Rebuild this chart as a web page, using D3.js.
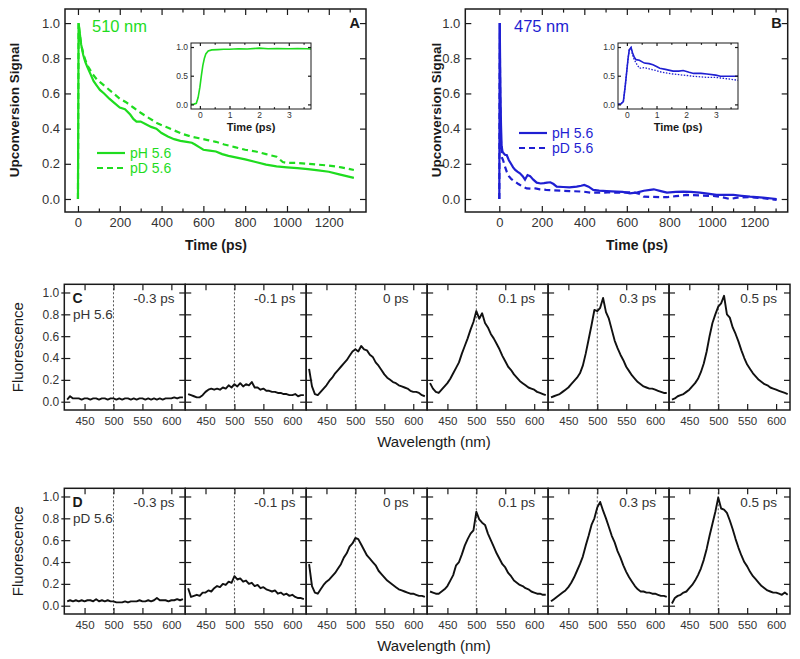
<!DOCTYPE html>
<html><head><meta charset="utf-8">
<script src="https://cdn.jsdelivr.net/npm/d3@7"></script>
<style>body{margin:0;background:#fff;}svg{display:block;}</style>
</head><body>
<svg id="c" width="800" height="659"></svg>
<script>
// ---------------- DATA ----------------
// Panel A (510 nm)
const tA_pH = [0, 3, 8, 15, 25, 35, 45, 60, 75, 90, 105, 125, 150, 175, 200, 225, 250, 265, 280, 300, 325, 350, 375, 400, 430, 460, 490, 520, 545, 560, 580, 600, 630, 660, 690, 720, 760, 800, 850, 900, 950, 1000, 1050, 1100, 1150, 1200, 1250, 1320];
const sA_pH = [0, 1.0, 0.95, 0.88, 0.82, 0.78, 0.75, 0.71, 0.67, 0.645, 0.62, 0.6, 0.57, 0.545, 0.52, 0.51, 0.48, 0.455, 0.44, 0.44, 0.425, 0.41, 0.4, 0.375, 0.355, 0.34, 0.33, 0.325, 0.32, 0.31, 0.295, 0.28, 0.275, 0.27, 0.255, 0.245, 0.235, 0.225, 0.21, 0.195, 0.185, 0.18, 0.175, 0.17, 0.163, 0.155, 0.14, 0.12];
const tA_pD = [0, 3, 8, 15, 25, 35, 50, 70, 90, 110, 140, 170, 200, 230, 265, 300, 340, 380, 420, 460, 500, 540, 580, 620, 660, 700, 750, 800, 850, 900, 950, 980, 1000, 1050, 1100, 1150, 1200, 1260, 1320];
const sA_pD = [0, 1.0, 0.94, 0.88, 0.83, 0.79, 0.75, 0.71, 0.68, 0.66, 0.63, 0.6, 0.57, 0.55, 0.52, 0.49, 0.46, 0.43, 0.41, 0.39, 0.37, 0.355, 0.345, 0.335, 0.325, 0.31, 0.295, 0.28, 0.27, 0.255, 0.24, 0.21, 0.205, 0.205, 0.2, 0.195, 0.19, 0.18, 0.165];
// Panel B (475 nm)
const tB_pH = [0, 2, 4, 6, 8, 11, 15, 20, 28, 35, 45, 55, 65, 75, 85, 97, 110, 121, 133, 145, 160, 176, 195, 210, 225, 240, 255, 270, 300, 330, 364, 385, 400, 420, 442, 470, 505, 552, 580, 615, 650, 680, 710, 727, 760, 789, 830, 866, 900, 944, 980, 1022, 1060, 1101, 1140, 1180, 1240, 1305];
const sB_pH = [0, 1.0, 0.75, 0.56, 0.42, 0.3, 0.27, 0.26, 0.25, 0.25, 0.22, 0.2, 0.18, 0.165, 0.155, 0.146, 0.13, 0.11, 0.136, 0.13, 0.11, 0.093, 0.088, 0.09, 0.093, 0.095, 0.085, 0.07, 0.068, 0.066, 0.07, 0.075, 0.08, 0.07, 0.052, 0.048, 0.045, 0.042, 0.04, 0.032, 0.038, 0.047, 0.052, 0.055, 0.045, 0.036, 0.04, 0.042, 0.04, 0.036, 0.03, 0.023, 0.024, 0.023, 0.018, 0.013, 0.008, 0.0];
const tB_pD = [0, 2, 4, 7, 11, 18, 25, 35, 45, 55, 65, 74, 90, 110, 129, 150, 170, 191, 220, 250, 286, 330, 395, 430, 474, 510, 552, 590, 631, 660, 680, 720, 789, 830, 882, 940, 1007, 1050, 1085, 1120, 1180, 1240, 1305];
const sB_pD = [0, 1.0, 0.6, 0.35, 0.24, 0.22, 0.19, 0.155, 0.13, 0.115, 0.105, 0.1, 0.085, 0.07, 0.06, 0.058, 0.06, 0.055, 0.052, 0.05, 0.047, 0.045, 0.042, 0.036, 0.036, 0.037, 0.036, 0.037, 0.038, 0.028, 0.013, 0.012, 0.01, 0.016, 0.023, 0.02, 0.017, 0.01, 0.0, 0.008, 0.01, 0.005, -0.005];
// Insets (early time, ps)
const tInA = [-0.3, -0.2, -0.12, -0.06, 0, 0.05, 0.1, 0.15, 0.2, 0.28, 0.4, 0.6, 0.8, 1.0, 1.3, 1.6, 2.0, 2.3, 2.6, 3.0, 3.3, 3.6, 3.75];
const sInA = [0.0, 0.005, 0.02, 0.12, 0.3, 0.5, 0.68, 0.8, 0.88, 0.93, 0.95, 0.955, 0.96, 0.96, 0.97, 0.965, 0.98, 0.97, 0.975, 0.97, 0.975, 0.97, 0.965];
const tInB = [-0.3, -0.2, -0.12, -0.06, 0.0, 0.04, 0.08, 0.14, 0.19, 0.25, 0.31, 0.42, 0.59, 0.75, 0.88, 1.0, 1.11, 1.3, 1.56, 1.75, 1.9, 2.1, 2.25, 2.5, 2.7, 3.0, 3.16, 3.5, 3.75];
const sInB_pH = [0.0, 0.01, 0.05, 0.3, 0.6, 0.8, 0.95, 0.99, 0.9, 0.82, 0.78, 0.77, 0.72, 0.71, 0.69, 0.66, 0.63, 0.61, 0.58, 0.58, 0.59, 0.56, 0.54, 0.54, 0.53, 0.51, 0.49, 0.49, 0.49];
const sInB_pD = [0.0, 0.01, 0.05, 0.3, 0.6, 0.8, 0.95, 0.99, 0.86, 0.78, 0.72, 0.63, 0.64, 0.62, 0.6, 0.59, 0.57, 0.55, 0.53, 0.52, 0.51, 0.5, 0.49, 0.48, 0.47, 0.47, 0.46, 0.44, 0.42];

// Spectra (panels C and D)
const wavelengths = [420, 425, 430, 435, 440, 445, 450, 455, 460, 465, 470, 475, 480, 485, 490, 495, 500, 505, 510, 515, 520, 525, 530, 535, 540, 545, 550, 555, 560, 565, 570, 575, 580, 585, 590, 595, 600, 605, 610, 615, 620];
const delayLabels = ["-0.3 ps", "-0.1 ps", "0 ps", "0.1 ps", "0.3 ps", "0.5 ps"];
const C_m03 = [0.02, 0.05, 0.03, 0.03, 0.03, 0.02, 0.03, 0.03, 0.02, 0.03, 0.03, 0.02, 0.03, 0.03, 0.02, 0.03, 0.03, 0.02, 0.03, 0.02, 0.03, 0.03, 0.02, 0.03, 0.02, 0.03, 0.03, 0.02, 0.03, 0.02, 0.03, 0.02, 0.03, 0.02, 0.03, 0.03, 0.03, 0.04, 0.03, 0.04, 0.04];
const C_m01 = [0.07, 0.06, 0.05, 0.04, 0.04, 0.06, 0.09, 0.11, 0.12, 0.11, 0.12, 0.11, 0.13, 0.12, 0.15, 0.13, 0.16, 0.14, 0.17, 0.14, 0.16, 0.15, 0.18, 0.13, 0.13, 0.11, 0.12, 0.10, 0.10, 0.09, 0.09, 0.08, 0.08, 0.07, 0.07, 0.06, 0.06, 0.07, 0.05, 0.06, 0.06];
const C_0 = [0.30, 0.14, 0.07, 0.06, 0.09, 0.12, 0.15, 0.19, 0.22, 0.26, 0.29, 0.32, 0.35, 0.38, 0.42, 0.46, 0.48, 0.46, 0.51, 0.48, 0.47, 0.43, 0.41, 0.36, 0.33, 0.29, 0.25, 0.22, 0.20, 0.18, 0.17, 0.15, 0.14, 0.13, 0.12, 0.10, 0.09, 0.09, 0.08, 0.06, 0.05];
const C_01 = [0.17, 0.12, 0.09, 0.08, 0.11, 0.14, 0.17, 0.21, 0.26, 0.31, 0.36, 0.44, 0.51, 0.58, 0.66, 0.73, 0.83, 0.76, 0.81, 0.72, 0.68, 0.62, 0.58, 0.53, 0.48, 0.42, 0.37, 0.32, 0.29, 0.25, 0.22, 0.19, 0.17, 0.15, 0.13, 0.12, 0.11, 0.09, 0.08, 0.07, 0.06];
const C_03 = [0.04, 0.05, 0.06, 0.07, 0.09, 0.11, 0.13, 0.16, 0.19, 0.22, 0.26, 0.33, 0.44, 0.57, 0.70, 0.84, 0.83, 0.86, 0.95, 0.82, 0.76, 0.66, 0.56, 0.49, 0.43, 0.38, 0.32, 0.28, 0.24, 0.21, 0.18, 0.16, 0.14, 0.13, 0.12, 0.12, 0.11, 0.10, 0.09, 0.08, 0.08];
const C_05 = [0.02, 0.03, 0.05, 0.06, 0.07, 0.09, 0.11, 0.14, 0.17, 0.21, 0.27, 0.35, 0.46, 0.60, 0.72, 0.80, 0.87, 0.90, 0.97, 0.80, 0.77, 0.68, 0.62, 0.55, 0.47, 0.40, 0.34, 0.30, 0.26, 0.23, 0.20, 0.18, 0.16, 0.15, 0.13, 0.12, 0.11, 0.10, 0.09, 0.08, 0.07];
const D_m03 = [0.04, 0.05, 0.04, 0.05, 0.04, 0.05, 0.04, 0.05, 0.05, 0.04, 0.06, 0.04, 0.05, 0.04, 0.05, 0.04, 0.04, 0.03, 0.03, 0.03, 0.04, 0.03, 0.04, 0.04, 0.04, 0.05, 0.04, 0.04, 0.05, 0.04, 0.05, 0.07, 0.05, 0.05, 0.05, 0.04, 0.05, 0.05, 0.06, 0.05, 0.06];
const D_m01 = [0.16, 0.08, 0.09, 0.10, 0.09, 0.12, 0.12, 0.14, 0.13, 0.16, 0.18, 0.17, 0.20, 0.19, 0.22, 0.21, 0.27, 0.24, 0.25, 0.22, 0.23, 0.20, 0.21, 0.18, 0.19, 0.16, 0.17, 0.15, 0.14, 0.13, 0.14, 0.11, 0.12, 0.10, 0.11, 0.09, 0.10, 0.08, 0.07, 0.07, 0.06];
const D_0 = [0.38, 0.18, 0.12, 0.11, 0.15, 0.19, 0.22, 0.24, 0.27, 0.30, 0.34, 0.38, 0.44, 0.48, 0.54, 0.57, 0.62, 0.61, 0.56, 0.51, 0.46, 0.43, 0.40, 0.37, 0.32, 0.29, 0.26, 0.23, 0.21, 0.19, 0.17, 0.15, 0.14, 0.13, 0.12, 0.11, 0.11, 0.10, 0.09, 0.09, 0.08];
const D_01 = [0.13, 0.12, 0.11, 0.11, 0.13, 0.15, 0.18, 0.23, 0.28, 0.37, 0.40, 0.47, 0.55, 0.61, 0.66, 0.69, 0.86, 0.79, 0.76, 0.74, 0.66, 0.60, 0.54, 0.48, 0.43, 0.38, 0.35, 0.30, 0.27, 0.23, 0.21, 0.19, 0.18, 0.16, 0.15, 0.13, 0.12, 0.11, 0.11, 0.10, 0.10];
const D_03 = [0.04, 0.06, 0.08, 0.10, 0.12, 0.14, 0.17, 0.21, 0.26, 0.32, 0.38, 0.45, 0.55, 0.64, 0.74, 0.80, 0.90, 0.95, 0.87, 0.80, 0.72, 0.64, 0.58, 0.50, 0.44, 0.37, 0.31, 0.26, 0.22, 0.18, 0.15, 0.13, 0.13, 0.12, 0.12, 0.11, 0.11, 0.10, 0.09, 0.09, 0.08];
const D_05 = [0.02, 0.07, 0.09, 0.10, 0.12, 0.13, 0.16, 0.19, 0.23, 0.28, 0.34, 0.42, 0.52, 0.64, 0.75, 0.86, 0.99, 0.89, 0.88, 0.85, 0.78, 0.70, 0.61, 0.53, 0.46, 0.40, 0.36, 0.31, 0.27, 0.24, 0.21, 0.18, 0.16, 0.14, 0.13, 0.12, 0.12, 0.11, 0.10, 0.12, 0.10];
const specC = [C_m03, C_m01, C_0, C_01, C_03, C_05];
const specD = [D_m03, D_m01, D_0, D_01, D_03, D_05];

// Ticks
const yTicksMain = [0, 0.2, 0.4, 0.6, 0.8, 1.0];
const xTicksMain = [0, 200, 400, 600, 800, 1000, 1200];
const xMinorMain = [100, 300, 500, 700, 900, 1100, 1300];
const yTicksInset = [0, 0.5, 1.0];
const xTicksInset = [0, 1, 2, 3];
const yTicksSpec = [0, 0.2, 0.4, 0.6, 0.8, 1.0];
const xTicksSpec = [450, 500, 550, 600];

// ---------------- DRAWING ----------------
const FONT = "'Liberation Sans', Arial, sans-serif";
const GREEN = "#1fdc1f", BLUE = "#1f1fd2", INK = "#1a1a1a", LAB = "#333";
const svg = d3.select("#c").attr("font-family", FONT);

function styleAxis(sel, fs, col) {
  sel.select(".domain").remove();
  sel.selectAll(".tick line").attr("stroke", INK).attr("stroke-width", 1.2);
  sel.selectAll(".tick text").attr("font-size", fs || 12).attr("fill", col || LAB).attr("font-family", FONT);
}
const f1 = d3.format(".1f");

function frameAxes(g, x, y, x0, x1, y0, y1, o) {
  g.append("g").attr("transform", `translate(${x0},0)`)
    .call(d3.axisLeft(y).tickValues(o.yt).tickFormat(o.ylab ? f1 : "").tickSize(-o.ts).tickPadding(o.yp))
    .call(styleAxis, o.yfs);
  g.append("g").attr("transform", `translate(${x1},0)`)
    .call(d3.axisRight(y).tickValues(o.yt).tickFormat("").tickSize(-o.ts)).call(styleAxis);
  g.append("g").attr("transform", `translate(0,${y1})`)
    .call(d3.axisBottom(x).tickValues(o.xt).tickFormat(o.xfmt).tickSize(-o.ts).tickPadding(o.xp))
    .call(styleAxis, o.xfs);
  g.append("g").attr("transform", `translate(0,${y0})`)
    .call(d3.axisTop(x).tickValues(o.xt).tickFormat("").tickSize(-o.ts)).call(styleAxis);
  if (o.xm) {
    g.append("g").attr("transform", `translate(0,${y1})`)
      .call(d3.axisBottom(x).tickValues(o.xm).tickFormat("").tickSize(-o.ts * 0.6)).call(styleAxis);
    g.append("g").attr("transform", `translate(0,${y0})`)
      .call(d3.axisTop(x).tickValues(o.xm).tickFormat("").tickSize(-o.ts * 0.6)).call(styleAxis);
  }
  g.append("rect").attr("x", x0).attr("y", y0).attr("width", x1 - x0).attr("height", y1 - y0)
    .attr("fill", "none").attr("stroke", INK).attr("stroke-width", 1.5);
}

function decayPanel(c) {
  const x = d3.scaleLinear().domain(c.xdom).range([c.x0, c.x1]);
  const y = d3.scaleLinear().domain([-0.074, 1.08]).range([212, 9]);
  const g = svg.append("g");
  const line = d3.line().x(d => x(d[0])).y(d => y(d[1]));
  g.append("path").datum(d3.zip(c.tD, c.sD)).attr("d", line).attr("fill", "none")
    .attr("stroke", c.color).attr("stroke-width", 2.2).attr("stroke-dasharray", "6,4");
  g.append("path").datum(d3.zip(c.tH, c.sH)).attr("d", line).attr("fill", "none")
    .attr("stroke", c.color).attr("stroke-width", 2.2);
  frameAxes(g, x, y, c.x0, c.x1, 9, 212, {yt: yTicksMain, ylab: true, ts: 6, yp: 5, yfs: 13,
    xt: xTicksMain, xm: xMinorMain, xfmt: d3.format("d"), xp: 6, xfs: 13});
  // titles
  g.append("text").attr("x", c.tx).attr("y", 250).attr("text-anchor", "middle")
    .attr("font-size", 14).attr("font-weight", "bold").attr("fill", INK).text("Time (ps)");
  g.append("text").attr("transform", `translate(${c.yx},110) rotate(-90)`).attr("text-anchor", "middle")
    .attr("font-size", 13.5).attr("font-weight", "bold").attr("fill", INK).text("Upconversion Signal");
  g.append("text").attr("x", c.wx).attr("y", 32).attr("font-size", 16.5).attr("fill", c.color).text(c.wl);
  g.append("text").attr("x", c.x1 - 6).attr("y", 28).attr("text-anchor", "end")
    .attr("font-size", 14.5).attr("font-weight", "bold").attr("fill", INK).text(c.letter);
  // legend
  const lg = g.append("g");
  lg.append("line").attr("x1", c.lx).attr("x2", c.lx + 28).attr("y1", c.ly).attr("y2", c.ly)
    .attr("stroke", c.color).attr("stroke-width", 2.2);
  lg.append("line").attr("x1", c.lx).attr("x2", c.lx + 28).attr("y1", c.ly + 15).attr("y2", c.ly + 15)
    .attr("stroke", c.color).attr("stroke-width", 2.2).attr("stroke-dasharray", "6,4");
  lg.append("text").attr("x", c.lx + 33).attr("y", c.ly + 5).attr("font-size", 14).attr("fill", c.color).text("pH 5.6");
  lg.append("text").attr("x", c.lx + 33).attr("y", c.ly + 20).attr("font-size", 14).attr("fill", c.color).text("pD 5.6");
  // inset
  const ix0 = c.ix0, ix1 = c.ix0 + 120, iy0 = 43, iy1 = 109;
  const xi = d3.scaleLinear().domain([-0.3, 3.75]).range([ix0, ix1]);
  const yi = d3.scaleLinear().domain([-0.08, 1.07]).range([iy1, iy0]);
  const gi = svg.append("g");
  gi.append("rect").attr("x", ix0).attr("y", iy0).attr("width", 120).attr("height", 66).attr("fill", "#fff");
  const li = d3.line().x(d => xi(d[0])).y(d => yi(d[1]));
  c.inset.forEach(s => {
    gi.append("path").datum(d3.zip(s.t, s.v)).attr("d", li).attr("fill", "none")
      .attr("stroke", c.color).attr("stroke-width", s.dash ? 1.3 : 1.6)
      .attr("stroke-dasharray", s.dash ? "1.5,1.5" : null);
  });
  frameAxes(gi, xi, yi, ix0, ix1, iy0, iy1, {yt: yTicksInset, ylab: true, ts: 3, yp: 3, yfs: 8.5,
    xt: xTicksInset, xm: [0.5, 1.5, 2.5, 3.5], xfmt: d3.format("d"), xp: 3, xfs: 8.5});
  gi.selectAll("rect").filter(function(){return d3.select(this).attr("fill")==="none";}).attr("stroke-width", 1);
  gi.append("text").attr("x", (ix0 + ix1) / 2).attr("y", 131).attr("text-anchor", "middle")
    .attr("font-size", 11).attr("font-weight", "bold").attr("fill", INK).text("Time (ps)");
}

decayPanel({x0: 65, x1: 366, xdom: [-62, 1378], color: GREEN, tH: tA_pH, sH: sA_pH, tD: tA_pD, sD: sA_pD,
  tx: 216, yx: 19, wx: 92, wl: "510 nm", letter: "A", lx: 97, ly: 153, ix0: 191,
  inset: [{t: tInA, v: sInA, dash: false}]});
decayPanel({x0: 465.3, x1: 787.7, xdom: [-160, 1357], color: BLUE, tH: tB_pH, sH: sB_pH, tD: tB_pD, sD: sB_pD,
  tx: 637, yx: 441, wx: 514, wl: "475 nm", letter: "B", lx: 519, ly: 133, ix0: 618,
  inset: [{t: tInB, v: sInB_pD, dash: true}, {t: tInB, v: sInB_pH, dash: false}]});

// Spectral rows
function specRow(c) {
  const g = svg.append("g");
  const L = 64.3, W = 120.95, y0 = c.y0, y1 = c.y0 + 125.7;
  const y = d3.scaleLinear().domain([-0.076, 1.075]).range([y1, y0]);
  for (let i = 0; i < 6; i++) {
    const x0 = L + i * W, x1 = x0 + W;
    const x = d3.scaleLinear().domain([415, 624]).range([x0, x1]);
    g.append("line").attr("x1", x(500)).attr("x2", x(500)).attr("y1", y0).attr("y2", y1)
      .attr("stroke", "#555").attr("stroke-width", 1).attr("stroke-dasharray", "2,2");
    g.append("path").datum(d3.zip(wavelengths, c.data[i]))
      .attr("d", d3.line().x(d => x(d[0])).y(d => y(d[1])))
      .attr("fill", "none").attr("stroke", "#111").attr("stroke-width", 1.9).attr("stroke-linejoin", "round");
    frameAxes(g, x, y, x0, x1, y0, y1, {yt: yTicksSpec, ylab: i === 0, ts: 6, yp: 5, yfs: 12,
      xt: xTicksSpec, xfmt: d3.format("d"), xp: 7, xfs: 11.5});
    g.append("text").attr("x", x0 + 89.5).attr("y", y0 + 18.3).attr("text-anchor", "middle")
      .attr("font-size", 13.5).attr("fill", LAB).text(delayLabels[i]);
  }
  // outer-left outward ticks
  g.append("g").attr("transform", `translate(${L},0)`)
    .call(d3.axisLeft(y).tickValues(yTicksSpec).tickFormat("").tickSize(3)).call(styleAxis);
  g.append("text").attr("x", 72.5).attr("y", y0 + 18.3).attr("font-size", 14).attr("font-weight", "bold")
    .attr("fill", INK).text(c.letter);
  g.append("text").attr("x", 73).attr("y", y0 + 35).attr("font-size", 13.5).attr("fill", LAB).text(c.cond);
  g.append("text").attr("transform", `translate(23,${(y0 + y1) / 2}) rotate(-90)`).attr("text-anchor", "middle")
    .attr("font-size", 15).attr("fill", INK).text("Fluorescence");
  g.append("text").attr("x", 434).attr("y", y1 + 36.5).attr("text-anchor", "middle")
    .attr("font-size", 15).attr("fill", INK).text("Wavelength (nm)");
}
specRow({y0: 284.3, data: specC, letter: "C", cond: "pH 5.6"});
specRow({y0: 488.3, data: specD, letter: "D", cond: "pD 5.6"});
</script>
</body></html>
